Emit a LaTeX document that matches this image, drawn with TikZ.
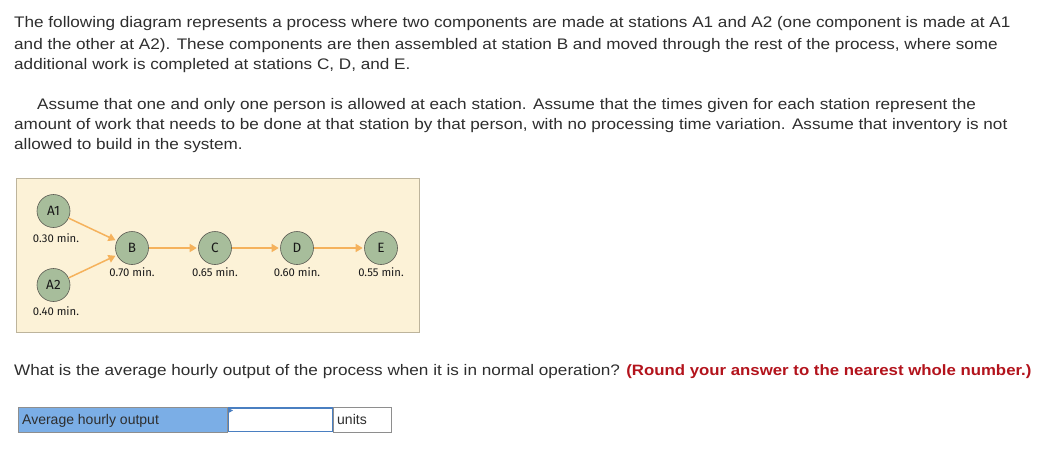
\documentclass[tikz,border=0pt]{standalone}
\usepackage{fontspec}
\setmainfont{Liberation Sans}
\newfontfamily\widefont[FakeStretch=1.12]{Liberation Sans}
\newfontfamily\diagfont{Fira Sans}
\usetikzlibrary{arrows.meta}
\definecolor{txt}{HTML}{2E2E2E}
\definecolor{cream}{HTML}{FCF2D7}
\definecolor{panelborder}{HTML}{BDB49C}
\definecolor{nodegreen}{HTML}{A7BD9B}
\definecolor{nodeborder}{HTML}{5A5A52}
\definecolor{flowcol}{HTML}{F5B25C}
\definecolor{qred}{HTML}{B3131C}
\definecolor{cellblue}{HTML}{7BAEE6}
\definecolor{inputblue}{HTML}{4A7FC1}
\definecolor{cellgray}{HTML}{8E8E8E}
\begin{document}
\begin{tikzpicture}[x=1pt,y=-1pt,
  bodyline/.style={anchor=base west, inner sep=0pt, text=txt, font=\widefont\fontsize{15.3}{18}\selectfont},
  station/.style={circle, draw=nodeborder, line width=0.6pt, fill=nodegreen, minimum size=33pt, inner sep=0pt, text=black!90, font=\diagfont\fontsize{13.5}{14}\selectfont},
  timelbl/.style={inner sep=0pt, text=black!90, font=\diagfont\fontsize{11.3}{13}\selectfont},
  flow/.style={draw=flowcol, line width=1.5pt, shorten >=1.5pt, -{Triangle[length=7pt,width=8pt]}},
  cell/.style={anchor=north west, minimum height=25pt, inner sep=0pt, line width=0.8pt}]
\useasboundingbox[fill=white] (0,0) rectangle (1049,451);

% paragraph text
\node[bodyline] (t1) at (14,27) {The following diagram represents a process where two components are made at stations A1 and A2 (one component is made at A1};
\node[bodyline] (t2) at (14,49) {and the other at A2). These components are then assembled at station B and moved through the rest of the process, where some};
\node[bodyline] (t3) at (14,69) {additional work is completed at stations C, D, and E.};
\node[bodyline] (t4) at (37,109) {Assume that one and only one person is allowed at each station. Assume that the times given for each station represent the};
\node[bodyline] (t5) at (14,129) {amount of work that needs to be done at that station by that person, with no processing time variation. Assume that inventory is not};
\node[bodyline] (t6) at (14,149) {allowed to build in the system.};

% diagram panel
\draw[fill=cream, draw=panelborder, line width=1pt] (16.5,178) rectangle (419,332);

\node[station] (A1) at (53.5,211) {A1};
\node[station] (A2) at (53.5,285) {A2};
\node[station] (B) at (132,248) {B};
\node[station] (C) at (215,248) {C};
\node[station] (D) at (297,248) {D};
\node[station] (E) at (381,248) {E};

\draw[flow] (A1) -- (B);
\draw[flow] (A2) -- (B);
\draw[flow] (B) -- (C);
\draw[flow] (C) -- (D);
\draw[flow] (D) -- (E);

\node[timelbl] (lA1) at (56,238) {0.30 min.};
\node[timelbl] (lA2) at (56,311) {0.40 min.};
\node[timelbl] (lB) at (132,272) {0.70 min.};
\node[timelbl] (lC) at (215,272) {0.65 min.};
\node[timelbl] (lD) at (297,272) {0.60 min.};
\node[timelbl] (lE) at (381,272) {0.55 min.};

% question
\node[bodyline] (q) at (14,375) {What is the average hourly output of the process when it is in normal operation? \textcolor{qred}{\bfseries\fontsize{15}{18}\selectfont(Round your answer to the nearest whole number.)}};

% answer row
\node[cell, fill=cellblue, draw=cellgray, minimum width=209pt] (lbl) at (18,406.5) {};
\node[cell, fill=white, draw=cellgray, minimum width=58pt] (unitcell) at (333,406.5) {};
\node[cell, fill=white, draw=inputblue, line width=1.2pt, minimum width=104pt, minimum height=23.5pt] (input) at (228,407.3) {};
\fill[inputblue] (228.5,408) -- (233,410.5) -- (228.5,413) -- cycle;
\node[anchor=base west, inner sep=0pt, text=txt, font=\fontsize{14}{16}\selectfont] (lbltext) at (22,424) {Average hourly output};
\node[anchor=base west, inner sep=0pt, text=txt, font=\fontsize{14}{16}\selectfont] (unittext) at (337,424) {units};
\end{tikzpicture}
\end{document}
